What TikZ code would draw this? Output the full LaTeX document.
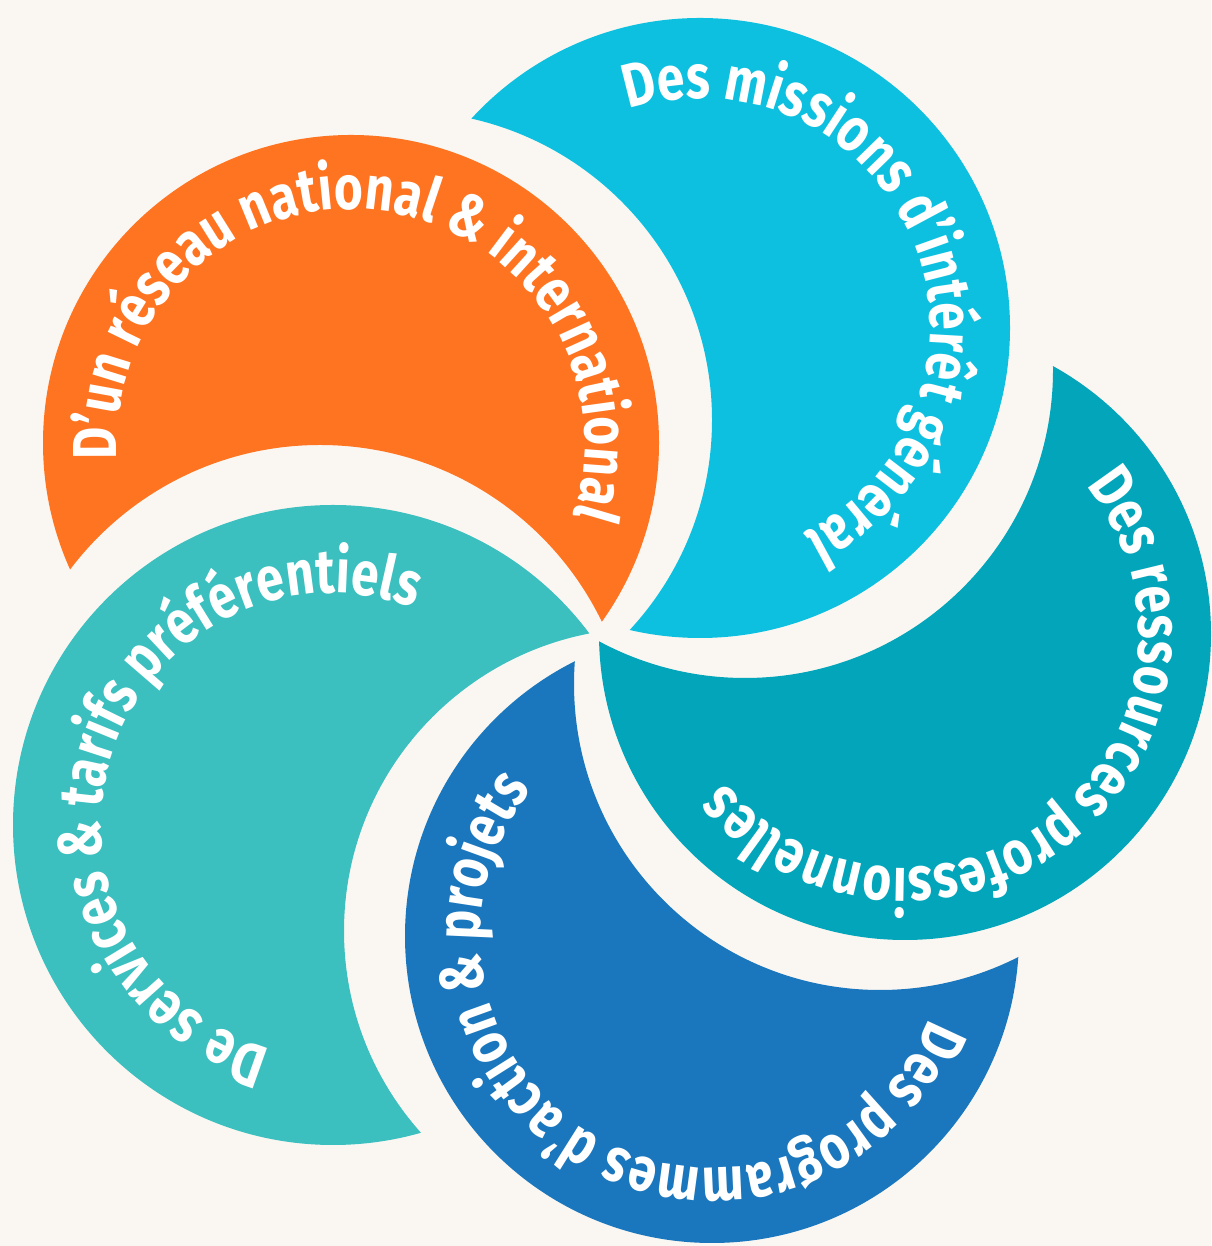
\documentclass[tikz,border=0pt]{standalone}
\usepackage{fontspec}
\newfontfamily\petalfont{Fira Sans}[FakeStretch=0.8]
\usetikzlibrary{decorations.text}

\definecolor{cream}{HTML}{FAF7F2}
\definecolor{petalorange}{HTML}{FF7420}
\definecolor{petalcyan}{HTML}{0EC0E0}
\definecolor{petalteal}{HTML}{02A5BA}
\definecolor{petalblue}{HTML}{1B77BD}
\definecolor{petalaqua}{HTML}{3BBFBF}

\newcommand{\petaltype}{\petalfont\bfseries\fontsize{62pt}{62pt}\selectfont}

% a petal is its disc minus the bite of the next disc
\newcommand{\petal}[5]{%
  \begin{scope}
    \clip (#2) circle[radius=#3pt];
    \fill[#1, even odd rule] (#2) ++(-400,-400) rectangle ++(800,800) (#4) circle[radius=#5pt];
  \end{scope}}

\begin{document}
\begin{tikzpicture}[x=1pt,y=1pt]
  \tikzset{petal label/.style={decorate,
      decoration={text along path, text align=center, text color=white}}}

  \fill[cream] (0,0) rectangle (1211,1246);
  \useasboundingbox (0,0) rectangle (1211,1246);

  \coordinate (orange) at (351,803);  \coordinate (orange bite) at (320,488);
  \coordinate (aqua)   at (333,421);  \coordinate (aqua bite)   at (647,315);
  \coordinate (blue)   at (712,310);  \coordinate (blue bite)   at (880,562);
  \coordinate (teal)   at (905,612);  \coordinate (teal bite)   at (745,876);
  \coordinate (cyan)   at (700,918);  \coordinate (cyan bite)   at (403,826);

  \petal{petalorange}{orange}{308}{orange bite}{313}
  \petal{petalaqua}{aqua}{320}{aqua bite}{303}
  \petal{petalblue}{blue}{307}{blue bite}{306}
  \petal{petalteal}{teal}{306}{teal bite}{308}
  \petal{petalcyan}{cyan}{310}{cyan bite}{309}

  \path[petal label, decoration={text={|\petaltype|D’un réseau national {\&} international}}]
    (orange) ++(203:234pt) arc[start angle=203, end angle=-37, radius=234pt];
  \path[petal label, decoration={text={|\petaltype|Des missions d’intérêt général}}]
    (cyan) ++(132:230pt) arc[start angle=132, end angle=-87, radius=230pt];
  \path[petal label, decoration={text={|\petaltype|Des ressources professionnelles}}]
    (teal) ++(61:234pt) arc[start angle=61, end angle=-162, radius=234pt];
  \path[petal label, decoration={text={|\petaltype|Des programmes d’action {\&} projets}}]
    (blue) ++(-5:232pt) arc[start angle=-5, end angle=-235, radius=232pt];
  \path[petal label, decoration={text={|\petaltype|De services {\&} tarifs préférentiels}}]
    (aqua) ++(273:232pt) arc[start angle=273, end angle=51, radius=232pt];
\end{tikzpicture}
\end{document}
